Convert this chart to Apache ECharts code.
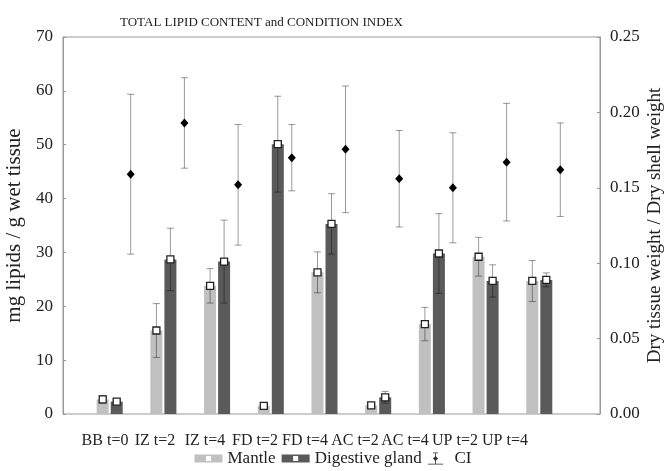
<!DOCTYPE html>
<html>
<head>
<meta charset="utf-8">
<script src="https://cdn.jsdelivr.net/npm/echarts@6/dist/echarts.min.js"></script>
<style>
html, body { margin: 0; padding: 0; background: #fff; }
#main { width: 666px; height: 471px; }
</style>
</head>
<body>
<div id="main"></div>
<script>
// groups and read-off values
var groups = ['BB t=0', 'IZ t=2', 'IZ t=4', 'FD t=2', 'FD t=4', 'AC t=2', 'AC t=4', 'UP t=2', 'UP t=4'];
var mantle = [2.7, 15.5, 23.8, 1.5, 26.3, 1.6, 16.7, 29.2, 24.7];
var mantleErr = [0.7, 5.0, 3.2, 0.4, 3.8, 0.5, 3.1, 3.6, 3.8];
var gland = [2.3, 28.7, 28.3, 50.1, 35.3, 3.1, 29.8, 24.7, 24.9];
var glandErr = [0.4, 5.8, 7.7, 8.9, 5.6, 1.1, 7.4, 3.0, 1.3];
var ci = [0.159, 0.193, 0.152, 0.170, 0.1755, 0.156, 0.150, 0.167, 0.162];
var ciErr = [0.053, 0.030, 0.040, 0.022, 0.042, 0.032, 0.0365, 0.039, 0.031];

var serif = 'Liberation Serif';
var ink = '#222';
var errColor = 'rgba(0,0,0,0.4)';

function triples(vals, errs){
    return vals.map(function(v, i){ return [i, v, errs[i]]; });
}

// error bar + marker drawn next to the group centre (shift in px)
function errorRenderer(shift, marker){
    return function(params, api){
        var i = api.value(0);
        var v = api.value(1);
        var e = api.value(2);
        var c = api.coord([i, v]);
        var hi = api.coord([i, v + e]);
        var lo = api.coord([i, v - e]);
        var x = c[0] + shift;
        var cap = 3.5;
        var st = { stroke: errColor, lineWidth: 1 };
        var kids = [
            { type: 'line', shape: { x1: x, y1: hi[1], x2: x, y2: lo[1] }, style: st },
            { type: 'line', shape: { x1: x - cap, y1: hi[1], x2: x + cap, y2: hi[1] }, style: st },
            { type: 'line', shape: { x1: x - cap, y1: lo[1], x2: x + cap, y2: lo[1] }, style: st }
        ];
        if (marker == 'square') {
            kids.push({ type: 'rect', shape: { x: x - 3.5, y: c[1] - 3.5, width: 7, height: 7 },
                style: { fill: '#fff', stroke: '#222', lineWidth: 1.3 } });
        } else {
            kids.push({ type: 'polygon', shape: { points: [[x, c[1] - 4.5], [x + 4, c[1]], [x, c[1] + 4.5], [x - 4, c[1]]] },
                style: { fill: '#000' } });
        }
        return { type: 'group', children: kids };
    };
}

var chart = echarts.init(document.getElementById('main'));

var swatch = 'path://M0,0H28V8H0Z M11.5,1.5V6.5H16.5V1.5Z';
var ciIcon = 'path://M0,13H18V14H0Z M8.5,1H9.5V13H8.5Z M6,0H12V1H6Z M9,4L12,7L9,10L6,7Z';

var option = {
    animation: false,
    textStyle: { fontFamily: serif, color: ink },
    title: {
        text: 'TOTAL LIPID CONTENT and CONDITION INDEX',
        left: 115,
        top: 11,
        textStyle: { fontFamily: serif, fontSize: 13, fontWeight: 'normal', color: ink }
    },
    legend: {
        top: 445,
        left: 'center',
        itemWidth: 28,
        itemHeight: 12,
        itemGap: 6,
        selectedMode: false,
        textStyle: { fontFamily: serif, fontSize: 17, color: ink },
        data: [
            { name: 'Mantle', icon: swatch },
            { name: 'Digestive gland', icon: swatch },
            { name: 'CI', icon: ciIcon, itemStyle: { color: '#333' } }
        ]
    },
    grid: [
        // frame with both value axes
        { left: 63, right: 66, top: 37, bottom: 57, show: true, borderColor: '#999', borderWidth: 1,
          outerBoundsMode: 'none' },
        // data area
        { left: 89.85, width: 483.3, top: 37, bottom: 57, outerBoundsMode: 'none' },
        // group labels
        { left: 80, width: 450, top: 37, bottom: 57, outerBoundsMode: 'none' }
    ],
    xAxis: [
        { gridIndex: 0, type: 'category', data: groups, show: false },
        { gridIndex: 1, type: 'category', data: groups, show: false },
        { gridIndex: 2, type: 'category', data: groups,
          axisLine: { show: false }, axisTick: { show: false },
          axisLabel: { interval: 0, margin: 19, fontFamily: serif, fontSize: 16, color: ink } }
    ],
    yAxis: [
        { gridIndex: 0, type: 'value', min: 0, max: 70, interval: 10, position: 'left',
          name: 'mg lipids / g wet tissue', nameLocation: 'middle', nameGap: 38, nameMoveOverlap: false,
          nameTextStyle: { fontFamily: serif, fontSize: 21, color: ink },
          axisLine: { show: true, lineStyle: { color: '#999' } },
          axisTick: { show: true, inside: true, length: 3, lineStyle: { color: '#999' } },
          axisLabel: { margin: 10, fontFamily: serif, fontSize: 17, color: ink },
          splitLine: { show: false } },
        { gridIndex: 0, type: 'value', min: 0, max: 0.25, interval: 0.05, position: 'right',
          name: 'Dry tissue weight / Dry shell weight', nameLocation: 'middle', nameGap: 46, nameMoveOverlap: false,
          nameTextStyle: { fontFamily: serif, fontSize: 19, color: ink },
          axisLine: { show: true, lineStyle: { color: '#999' } },
          axisTick: { show: true, inside: true, length: 3, lineStyle: { color: '#999' } },
          axisLabel: { margin: 10, fontFamily: serif, fontSize: 17, color: ink,
                       formatter: function(v){ return v.toFixed(2); } },
          splitLine: { show: false } },
        { gridIndex: 1, type: 'value', min: 0, max: 70, show: false },
        { gridIndex: 1, type: 'value', min: 0, max: 0.25, show: false },
        { gridIndex: 2, type: 'value', min: 0, max: 1, show: false }
    ],
    series: [
        { name: 'Mantle', type: 'bar', xAxisIndex: 1, yAxisIndex: 2, data: mantle,
          barWidth: 12, barGap: '17%', itemStyle: { color: '#c0c0c0' } },
        { name: 'Digestive gland', type: 'bar', xAxisIndex: 1, yAxisIndex: 2, data: gland,
          barWidth: 12, barGap: '17%', itemStyle: { color: '#5a5a5a' } },
        // empty slot so that the gland bar sits on the group centre
        { name: 'slot', type: 'bar', xAxisIndex: 1, yAxisIndex: 2, data: groups.map(function(){ return '-'; }),
          barWidth: 12, barGap: '17%' },
        { name: 'Mantle err', type: 'custom', xAxisIndex: 1, yAxisIndex: 2, z: 5,
          renderItem: errorRenderer(-14, 'square'), data: triples(mantle, mantleErr) },
        { name: 'Gland err', type: 'custom', xAxisIndex: 1, yAxisIndex: 2, z: 5,
          renderItem: errorRenderer(0, 'square'), data: triples(gland, glandErr) },
        { name: 'CI', type: 'custom', xAxisIndex: 1, yAxisIndex: 3, z: 5, itemStyle: { color: '#000' },
          renderItem: errorRenderer(14, 'diamond'), data: triples(ci, ciErr) }
    ]
};
chart.setOption(option);
</script>
</body>
</html>
